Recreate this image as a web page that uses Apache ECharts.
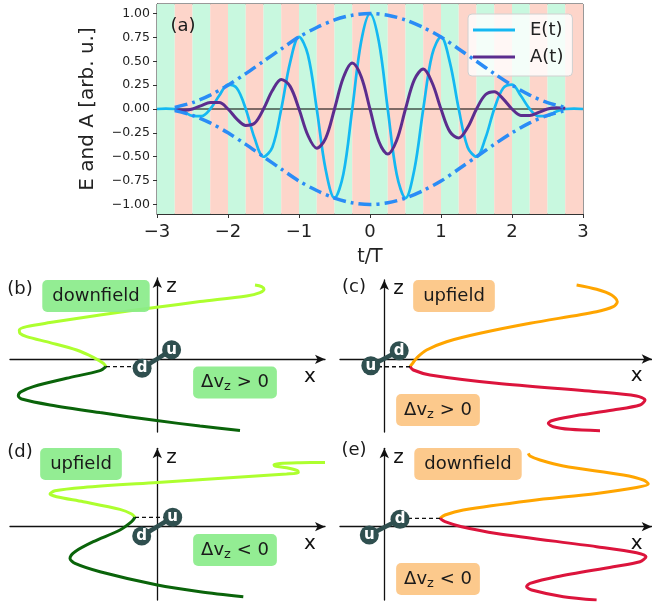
<!DOCTYPE html>
<html>
<head>
<meta charset="utf-8">
<script src="https://cdn.jsdelivr.net/npm/echarts@6/dist/echarts.min.js"></script>
<style>
html, body { margin: 0; padding: 0; background: #fff; }
#chart { width: 652px; height: 606px; }
</style>
</head>
<body>
<div id="chart"></div>
<script>
// ---- panel (a): pulse ----
var tValues = [-3, -2.875, -2.75, -2.625, -2.5, -2.375, -2.25, -2.125, -2, -1.875, -1.75, -1.625, -1.5, -1.375, -1.25, -1.125,
  -1, -0.875, -0.75, -0.625, -0.5, -0.375, -0.25, -0.125, 0, 0.125, 0.25, 0.375, 0.5, 0.625, 0.75, 0.875,
  1, 1.125, 1.25, 1.375, 1.5, 1.625, 1.75, 1.875, 2, 2.125, 2.25, 2.375, 2.5, 2.625, 2.75, 2.875, 3];
var eValues = [0, 0.003, 0, -0.027, -0.072, -0.075, 0, 0.138, 0.255, 0.218, 0, -0.307, -0.5, -0.4, 0, 0.489,
  0.755, 0.569, 0, -0.634, -0.933, -0.68, 0, 0.704, 1, 0.704, 0, -0.68, -0.933, -0.634, 0, 0.569,
  0.755, 0.489, 0, -0.4, -0.5, -0.307, 0, 0.218, 0.255, 0.138, 0, -0.075, -0.072, -0.027, 0, 0.003, 0];
var aValues = [null, null, -0.009, -0.013, 0, 0.036, 0.068, 0.067, 0, -0.106, -0.172, -0.149, 0, 0.194, 0.31, 0.237,
  0, -0.275, -0.41, -0.307, 0, 0.33, 0.482, 0.341, 0, -0.341, -0.472, -0.33, 0, 0.307, 0.418, 0.275,
  0, -0.237, -0.303, -0.194, 0, 0.149, 0.18, 0.106, 0, -0.067, -0.068, -0.036, 0, 0.013, 0.009, null, null];
var envT = [-2.75, -2.5, -2.25, -2, -1.75, -1.5, -1.25, -1, -0.75, -0.5, -0.25, 0,
  0.25, 0.5, 0.75, 1, 1.25, 1.5, 1.75, 2, 2.25, 2.5, 2.75];
var envUpper = [0.017, 0.067, 0.146, 0.25, 0.371, 0.5, 0.629, 0.755, 0.854, 0.933, 0.983, 1,
  0.983, 0.933, 0.854, 0.755, 0.629, 0.5, 0.371, 0.25, 0.146, 0.067, 0.017];
var envLower = [-0.017, -0.067, -0.146, -0.25, -0.371, -0.5, -0.629, -0.755, -0.854, -0.933, -0.983, -1,
  -0.983, -0.933, -0.854, -0.755, -0.629, -0.5, -0.371, -0.25, -0.146, -0.067, -0.017];
var stripeEdges = [-3, -2.75, -2.5, -2.25, -2, -1.75, -1.5, -1.25, -1, -0.75, -0.5, -0.25, 0,
  0.25, 0.5, 0.75, 1, 1.25, 1.5, 1.75, 2, 2.25, 2.5, 2.75, 3];
var yTicks = [-1, -0.75, -0.5, -0.25, 0, 0.25, 0.5, 0.75, 1];

// ---- panels (b)-(e): sketches, [x, z] ----
var bUpper = [[97.7, 74.3], [104.3, 72.7], [106.7, 70], [102.7, 66.7], [89.3, 63.3], [42.7, 57.7], [-0.7, 52], [-57.3, 44.3],
  [-107.3, 36.7], [-130.7, 32.7], [-138, 29.3], [-137.3, 26], [-130.7, 22.7], [-107.3, 16.7], [-80.7, 9.3], [-64, 2], [-54, -4], [-51.3, -7.3]];
var bLower = [[-51.3, -7.3], [-57.3, -11.3], [-90.7, -19], [-124, -27.3], [-136.7, -32.7], [-139, -36.7], [-134.7, -40],
  [-107.3, -45.7], [-57.3, -53.3], [-0.7, -61.3], [42.7, -66.7], [82.7, -71.3]];
var bDash = [[-51.3, -7.3], [-15.2, -7.3]];
var bDipole = [['d', -15.2, -9], ['u', 14.3, 9.5]];

var cUpper = [[192.3, 74], [212.3, 69.7], [227.3, 64], [233, 57.3], [229, 52.3], [212.3, 47.3], [145.7, 35.7], [95.7, 25.7],
  [62.3, 17.3], [42.3, 9], [33, 1.7], [28.3, -4.3], [25.7, -7.7]];
var cLower = [[25.7, -7.7], [29, -11], [45.7, -16], [112.3, -24.3], [212.3, -32.7], [252.3, -37], [260.7, -41], [255.7, -46],
  [229, -51], [185.7, -57.7], [167.3, -61.7], [164, -64.3], [169, -67.7], [185.7, -70.3], [215.7, -71.7]];
var cDash = [[25.7, -7.7], [-13.5, -7.7]];
var cDipole = [['u', -13.5, -6.8], ['d', 14.9, 8.2]];

var dUpper = [[-22.3, 9.3], [-25.7, 12.7], [-37.3, 17.3], [-74, 25], [-100.7, 30], [-107.3, 32.7], [-102.3, 36], [-74, 39.3],
  [0, 44.3], [76, 49.3], [129.3, 52.7], [141, 54], [140.3, 56], [129.3, 59], [117.7, 60.7], [116.7, 62], [122.7, 63.3], [142.7, 64], [167.7, 64.3]];
var dLower = [[-22.3, 9.3], [-25.7, 5], [-37.3, -3.3], [-64, -15], [-82.3, -25], [-87.3, -31.7], [-82.3, -36.7], [-57.3, -45],
  [0, -58.3], [42.7, -65], [86, -70]];
var dDash = [[-22.3, 9.3], [15.4, 9.3]];
var dDipole = [['d', -15.6, -9.3], ['u', 15.4, 9.4]];

var eUpper = [[55.7, 8.3], [60.7, 11.7], [79, 16.7], [145.7, 26], [212.3, 33.3], [252.3, 39.3], [264, 42.7], [259, 46.7],
  [239, 51.7], [179, 60.7], [155.7, 66.7], [145.7, 70.7], [144, 73.3]];
var eLower = [[55.7, 8.3], [60.7, 5], [77.3, 0], [112.3, -6.7], [212.3, -20], [252.3, -26], [261.7, -30], [255.7, -35],
  [229, -40], [172.3, -50], [145.7, -56.7], [142.3, -60], [147.3, -63.3], [179, -70], [212.3, -73.3]];
var eDash = [[55.7, 8.3], [15.7, 8.3]];
var eDipole = [['u', -15, -8.3], ['d', 15.7, 7.4]];

var FONT = 'DejaVu Sans';
var GREEN_BOX = 'rgba(138, 235, 138, 0.92)';
var ORANGE_BOX = 'rgba(252, 196, 130, 0.92)';

function pairs(xs, ys) {
  return xs.map(function (x, i) { return [x, ys[i]]; });
}
function withMinus(s) {
  return String(s).replace('-', '\u2212');
}

var chart = echarts.init(document.getElementById('chart'));

var stripeData = [];
for (var i = 0; i < stripeEdges.length - 1; i++) {
  stripeData.push([
    { xAxis: stripeEdges[i], itemStyle: { color: i % 2 === 0 ? '#c8f8df' : '#fdd5ca' } },
    { xAxis: stripeEdges[i + 1] }
  ]);
}

var grids = [{ left: 157, top: 4, width: 426, height: 210, show: true, borderColor: '#333', borderWidth: 1 }];
var xAxes = [{
  type: 'value', gridIndex: 0, min: -3, max: 3, interval: 1,
  axisLine: { show: true, onZero: false, lineStyle: { color: '#333' } },
  axisTick: { show: true, length: 4, lineStyle: { color: '#333' } },
  axisLabel: { fontSize: 18, color: '#222', fontFamily: FONT, margin: 9, formatter: function (v) { return withMinus(v); } },
  splitLine: { show: false },
  name: 't/T', nameLocation: 'middle', nameGap: 34,
  nameTextStyle: { fontSize: 19, color: '#222', fontFamily: FONT }
}];
var yAxes = [{
  type: 'value', gridIndex: 0, min: -1.1, max: 1.1,
  axisLine: { show: true, onZero: false, lineStyle: { color: '#333' } },
  axisTick: { show: true, length: 4, customValues: yTicks, lineStyle: { color: '#333' } },
  axisLabel: { fontSize: 12.5, color: '#222', fontFamily: FONT, margin: 7, customValues: yTicks,
    formatter: function (v) { return withMinus(v.toFixed(2)); } },
  splitLine: { show: false },
  name: 'E and A [arb. u.]', nameLocation: 'middle', nameRotate: 90, nameGap: 59,
  nameTextStyle: { fontSize: 20, color: '#222', fontFamily: FONT }
}];

var series = [
  { type: 'line', name: 'stripes', xAxisIndex: 0, yAxisIndex: 0, data: [[-3, 0]], symbol: 'none',
    lineStyle: { width: 0 }, silent: true, z: 0, markArea: { silent: true, data: stripeData } },
  { type: 'line', name: 'zero', xAxisIndex: 0, yAxisIndex: 0, data: [[-3, 0], [3, 0]], symbol: 'none',
    lineStyle: { color: '#000', width: 1.1 }, silent: true, z: 1 },
  { type: 'line', name: 'E(t)', xAxisIndex: 0, yAxisIndex: 0, data: pairs(tValues, eValues), smooth: 0.35, symbol: 'none',
    lineStyle: { color: '#14b8f2', width: 2.7 }, itemStyle: { color: '#14b8f2' }, z: 3 },
  { type: 'line', name: 'A(t)', xAxisIndex: 0, yAxisIndex: 0, data: pairs(tValues, aValues), smooth: 0.35, symbol: 'none',
    lineStyle: { color: '#5b2d8e', width: 3 }, itemStyle: { color: '#5b2d8e' }, z: 3 },
  { type: 'line', name: 'envUp', xAxisIndex: 0, yAxisIndex: 0, data: pairs(envT, envUpper), smooth: 0.3, symbol: 'none',
    lineStyle: { color: '#2a8cf6', width: 3.5, type: [13, 5, 3, 5] }, z: 4 },
  { type: 'line', name: 'envLow', xAxisIndex: 0, yAxisIndex: 0, data: pairs(envT, envLower), smooth: 0.3, symbol: 'none',
    lineStyle: { color: '#2a8cf6', width: 3.5, type: [13, 5, 3, 5] }, z: 4 }
];

var panels = [
  { rect: { left: 10, top: 278, width: 315, height: 154 }, x: [-147.3, 167.7], z: [-72.7, 81.3],
    upper: bUpper, lower: bLower, colors: ['#adff2f', '#0a640a'], dash: bDash, dipole: bDipole },
  { rect: { left: 340, top: 280, width: 311.7, height: 152 }, x: [-44.3, 267.4], z: [-73, 79],
    upper: cUpper, lower: cLower, colors: ['#ffa500', '#dc143c'], dash: cDash, dipole: cDipole },
  { rect: { left: 10, top: 448.3, width: 315, height: 151.7 }, x: [-147.3, 167.7], z: [-73.3, 78.4],
    upper: dUpper, lower: dLower, colors: ['#adff2f', '#0a640a'], dash: dDash, dipole: dDipole },
  { rect: { left: 340, top: 448.3, width: 311.7, height: 151.7 }, x: [-44.3, 267.4], z: [-73.3, 78.4],
    upper: eUpper, lower: eLower, colors: ['#ffa500', '#dc143c'], dash: eDash, dipole: eDipole }
];

panels.forEach(function (p, k) {
  var gi = k + 1;
  grids.push(p.rect);
  var axisLine = { show: true, onZero: true, symbol: ['none', 'arrow'], symbolSize: [7, 10],
    lineStyle: { color: '#111', width: 1.3 } };
  xAxes.push({
    type: 'value', gridIndex: gi, min: p.x[0], max: p.x[1],
    axisLine: axisLine, axisTick: { show: false }, axisLabel: { show: false }, splitLine: { show: false },
    name: 'x', nameLocation: 'end', nameGap: -15,
    nameTextStyle: { fontSize: 20, color: '#111', fontFamily: FONT, align: 'center', verticalAlign: 'top', padding: [7, 0, 0, 0] }
  });
  yAxes.push({
    type: 'value', gridIndex: gi, min: p.z[0], max: p.z[1],
    axisLine: axisLine, axisTick: { show: false }, axisLabel: { show: false }, splitLine: { show: false },
    name: 'z', nameLocation: 'end', nameGap: -9,
    nameTextStyle: { fontSize: 20, color: '#111', fontFamily: FONT, align: 'left', verticalAlign: 'middle', padding: [0, 0, 0, 9] }
  });
  [p.upper, p.lower].forEach(function (pts, j) {
    series.push({ type: 'line', xAxisIndex: gi, yAxisIndex: gi, data: pts, smooth: 0.3, symbol: 'none', silent: true,
      lineStyle: { color: p.colors[j], width: 3 }, z: 2 });
  });
  series.push({ type: 'line', xAxisIndex: gi, yAxisIndex: gi, data: p.dash, symbol: 'none', silent: true,
    lineStyle: { color: '#111', width: 1.4, type: [4, 3] }, z: 3 });
  series.push({ type: 'line', xAxisIndex: gi, yAxisIndex: gi, silent: true,
    data: p.dipole.map(function (d) { return { name: d[0], value: [d[1], d[2]] }; }),
    symbol: 'circle', symbolSize: 19, showAllSymbol: true, itemStyle: { color: '#2f4f4f' },
    lineStyle: { color: '#2f4f4f', width: 4.5 },
    label: { show: true, position: 'inside', formatter: '{b}', color: '#fff', fontSize: 15, fontWeight: 'bold', fontFamily: FONT },
    z: 4 });
});

function boxText(x, y, text, bg) {
  return { type: 'text', x: x, y: y, z: 20,
    style: { text: text, fontSize: 18, fontFamily: FONT, fill: '#1a1a1a', align: 'center', verticalAlign: 'middle',
      backgroundColor: bg, padding: [7, 10], borderRadius: 5 } };
}
function dvText(x, y, sign, bg) {
  return { type: 'text', x: x, y: y, z: 20,
    style: { text: '{a|\u0394v}{s|z}{a| ' + sign + ' 0}', align: 'center', verticalAlign: 'middle',
      backgroundColor: bg, padding: [5, 8], borderRadius: 5,
      rich: {
        a: { fontSize: 18, fontFamily: FONT, fill: '#1a1a1a', lineHeight: 22 },
        s: { fontSize: 13, fontFamily: FONT, fill: '#1a1a1a', lineHeight: 15, verticalAlign: 'bottom' }
      } } };
}
function tag(x, y, text) {
  return { type: 'text', x: x, y: y, z: 20,
    style: { text: text, fontSize: 18, fontFamily: FONT, fill: '#1a1a1a', align: 'center', verticalAlign: 'middle' } };
}

var graphics = [
  tag(183, 26, '(a)'),
  tag(20, 289, '(b)'), boxText(96, 296, 'downfield', GREEN_BOX), dvText(235, 382.5, '>', GREEN_BOX),
  tag(354, 287.5, '(c)'), boxText(454, 296, 'upfield', ORANGE_BOX), dvText(438, 410, '>', ORANGE_BOX),
  tag(20, 452, '(d)'), boxText(81, 464, 'upfield', GREEN_BOX), dvText(235, 550, '<', GREEN_BOX),
  tag(354, 450.5, '(e)'), boxText(468, 464, 'downfield', ORANGE_BOX), dvText(438, 579, '<', ORANGE_BOX)
];

chart.setOption({
  animation: false,
  textStyle: { fontFamily: FONT },
  grid: grids,
  xAxis: xAxes,
  yAxis: yAxes,
  legend: {
    data: ['E(t)', 'A(t)'], left: 468, top: 14, orient: 'vertical',
    icon: 'rect', itemWidth: 42, itemHeight: 3, itemGap: 9, padding: [7, 9, 10, 5],
    backgroundColor: 'rgba(255,255,255,0.8)', borderColor: '#d0d0d0', borderWidth: 1, borderRadius: 4,
    textStyle: { fontSize: 18, color: '#222', fontFamily: FONT, padding: [0, 0, 0, 10] }
  },
  graphic: graphics,
  series: series
});
</script>
</body>
</html>
